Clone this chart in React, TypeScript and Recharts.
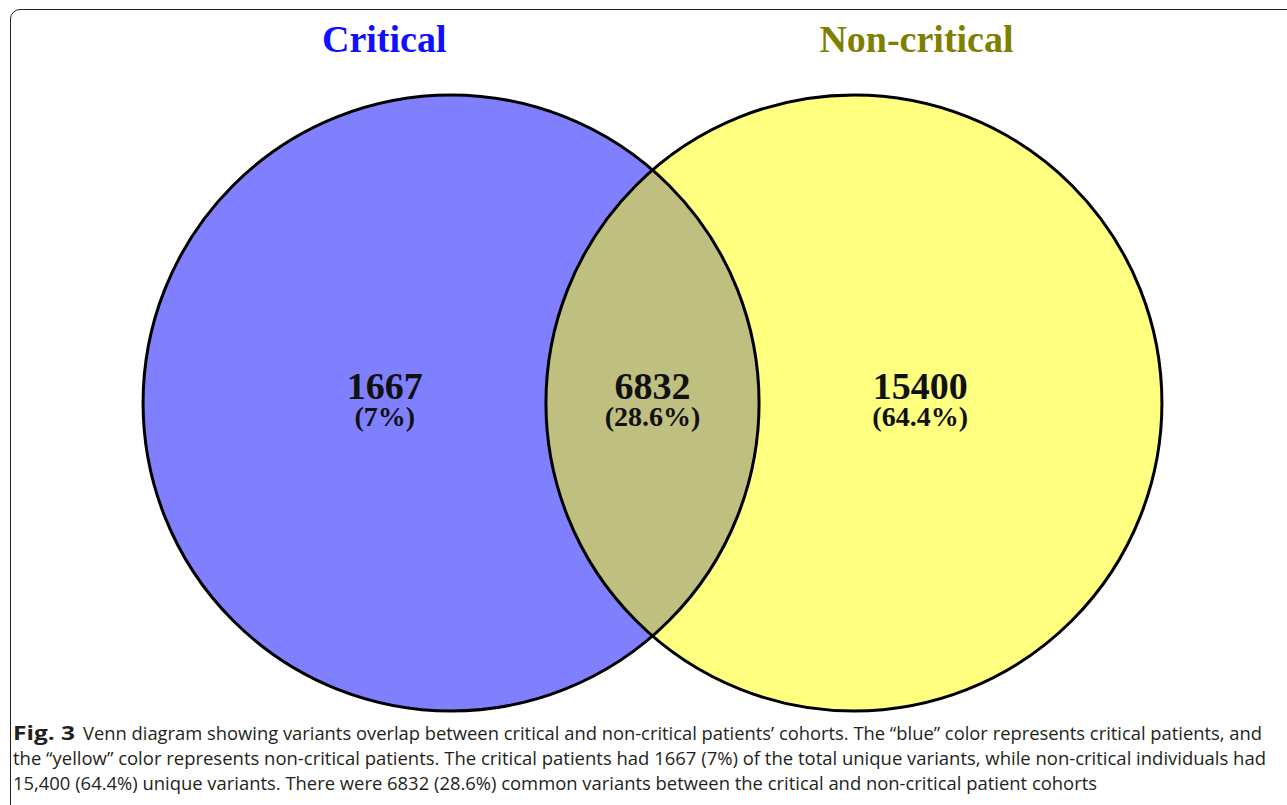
import React from "react";
import { ScatterChart, Scatter, XAxis, YAxis } from "recharts";

// ── Data ─────────────────────────────────────────────────────

const SET_NAMES = ["Critical", "Non-critical"];
const REGION_NAMES = ["Critical only", "Shared", "Non-critical only"];
const REGION_COUNTS = [1667, 6832, 15400];
const REGION_SHARES = [7, 28.6, 64.4];

const CAPTION_LEAD = "Fig. 3";
const CAPTION_LINES = [
  "Venn diagram showing variants overlap between critical and non-critical patients\u2019 cohorts. The \u201cblue\u201d color represents critical patients, and",
  "the \u201cyellow\u201d color represents non-critical patients. The critical patients had 1667 (7%) of the total unique variants, while non-critical individuals had",
  "15,400 (64.4%) unique variants. There were 6832 (28.6%) common variants between the critical and non-critical patient cohorts",
];

// ── Layout (chart units: 1 = one circle radius) ──────────────

const WIDTH = 1287;
const HEIGHT = 805;
const R_PX = 308;
const ORIGIN_X = 652.5;
const ORIGIN_Y = 403;
const X_DOMAIN = [-ORIGIN_X / R_PX, (WIDTH - ORIGIN_X) / R_PX];
const Y_DOMAIN = [-(HEIGHT - ORIGIN_Y) / R_PX, ORIGIN_Y / R_PX];
const PX_PER_UNIT = WIDTH / (X_DOMAIN[1] - X_DOMAIN[0]);

const CENTER_OFFSET = 0.654;
const LABEL_OFFSET = 0.869;
const TITLE_OFFSETS = [-0.871, 0.857];
const TITLE_Y = 1.14;

const SET_FILLS = ["#8080ff", "#ffff80"];
const OVERLAP_FILL = "#bfbf80";
const TITLE_COLORS = ["#1010ff", "#7f7f00"];
const SERIF = "'Liberation Serif', 'Times New Roman', serif";
const SANS = "'Open Sans', sans-serif";

const circles = SET_NAMES.map((name, i) => ({
  name,
  x: (i === 0 ? -1 : 1) * CENTER_OFFSET,
  y: 0,
  idx: i,
}));

const titles = SET_NAMES.map((name, i) => ({
  name,
  x: TITLE_OFFSETS[i],
  y: TITLE_Y,
  idx: i,
}));

const overlap = [{ name: REGION_NAMES[1], x: 0, y: 0 }];

const regions = REGION_COUNTS.map((count, i) => ({
  name: REGION_NAMES[i],
  count,
  share: REGION_SHARES[i],
  x: [-LABEL_OFFSET, 0, LABEL_OFFSET][i],
  y: 0,
}));

// ── Shapes ───────────────────────────────────────────────────

function CircleFill(props: any) {
  const { cx, cy, payload } = props;
  return <circle cx={cx} cy={cy} r={PX_PER_UNIT} fill={SET_FILLS[payload.idx]} stroke="none" />;
}

function CircleOutline(props: any) {
  const { cx, cy } = props;
  return <circle cx={cx} cy={cy} r={PX_PER_UNIT} fill="none" stroke="#000" strokeWidth={3} />;
}

function Lens(props: any) {
  const { cx, cy } = props;
  const r = PX_PER_UNIT;
  const d = CENTER_OFFSET * PX_PER_UNIT;
  const h = Math.sqrt(r * r - d * d);
  const path = `M ${cx} ${cy - h} A ${r} ${r} 0 0 1 ${cx} ${cy + h} A ${r} ${r} 0 0 1 ${cx} ${cy - h} Z`;
  return <path d={path} fill={OVERLAP_FILL} stroke="none" />;
}

function Title(props: any) {
  const { cx, cy, payload } = props;
  return (
    <text
      x={cx}
      y={cy}
      textAnchor="middle"
      fontFamily={SERIF}
      fontWeight="bold"
      fontSize={38}
      fill={TITLE_COLORS[payload.idx]}
    >
      {payload.name}
    </text>
  );
}

function RegionLabel(props: any) {
  const { cx, cy, payload } = props;
  return (
    <g fontFamily={SERIF} fontWeight="bold" fill="#111" textAnchor="middle">
      <text x={cx} y={cy - 4} fontSize={38}>
        {payload.count}
      </text>
      <text x={cx} y={cy + 23} fontSize={28}>
        ({payload.share}%)
      </text>
    </g>
  );
}

// ── Caption ──────────────────────────────────────────────────

const CAPTION_X = [83, 13, 13];
const CAPTION_END = [1262, 1266, 1097];
const CAPTION_BASE = 740;
const CAPTION_STEP = 25;

function Caption() {
  return (
    <svg
      width={WIDTH}
      height={HEIGHT}
      style={{ position: "absolute", left: 0, top: 0, pointerEvents: "none" }}
    >
      <text
        x={13}
        y={CAPTION_BASE}
        fontFamily={SANS}
        fontWeight="bold"
        fontSize={19}
        fill="#231f20"
        textLength={62}
        lengthAdjust="spacingAndGlyphs"
      >
        {CAPTION_LEAD}
      </text>
      {CAPTION_LINES.map((line, i) => (
        <text
          key={i}
          x={CAPTION_X[i]}
          y={CAPTION_BASE + i * CAPTION_STEP}
          fontFamily={SANS}
          fontSize={19}
          fill="#231f20"
          textLength={CAPTION_END[i] - CAPTION_X[i]}
          lengthAdjust="spacingAndGlyphs"
        >
          {line}
        </text>
      ))}
    </svg>
  );
}

// ── App ──────────────────────────────────────────────────────

export default function App() {
  return (
    <div
      style={{
        position: "fixed",
        left: 0,
        top: 0,
        width: WIDTH,
        height: HEIGHT,
        overflow: "hidden",
        background: "#fff",
      }}
    >
      <div
        style={{
          position: "absolute",
          left: 10,
          top: 9,
          width: 1300,
          height: 830,
          border: "1.5px solid #222",
          borderRadius: 10,
          boxSizing: "border-box",
        }}
      />
      <div style={{ position: "absolute", left: 0, top: 0 }}>
        <ScatterChart width={WIDTH} height={HEIGHT} margin={{ top: 0, right: 0, bottom: 0, left: 0 }}>
          <XAxis type="number" dataKey="x" domain={X_DOMAIN} allowDataOverflow hide />
          <YAxis type="number" dataKey="y" domain={Y_DOMAIN} allowDataOverflow hide />
          <Scatter data={circles} shape={CircleFill} isAnimationActive={false} />
          <Scatter data={overlap} shape={Lens} isAnimationActive={false} />
          <Scatter data={circles} shape={CircleOutline} isAnimationActive={false} />
          <Scatter data={titles} shape={Title} isAnimationActive={false} />
          <Scatter data={regions} shape={RegionLabel} isAnimationActive={false} />
        </ScatterChart>
      </div>
      <Caption />
    </div>
  );
}
